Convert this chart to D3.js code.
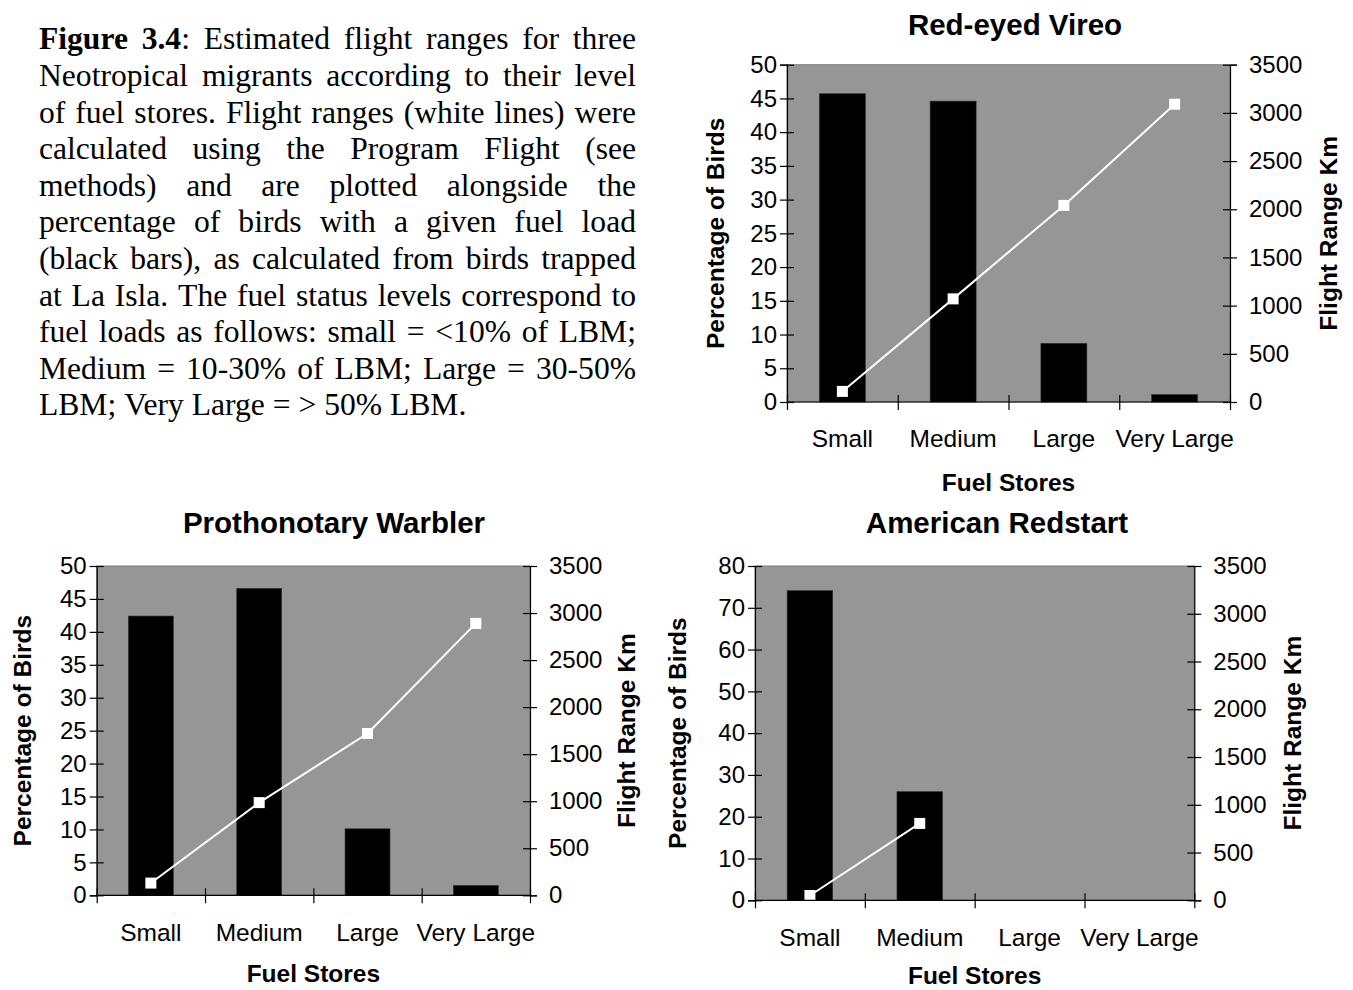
<!DOCTYPE html>
<html><head><meta charset="utf-8">
<script src="https://cdn.jsdelivr.net/npm/d3@7"></script>
<style>
body{margin:0;background:#fff;}
svg{display:block;}
</style></head>
<body>
<svg id="fig" width="1353" height="990"></svg>
<script>
// ---------- data ----------
const categories = ["Small", "Medium", "Large", "Very Large"];
const vireoPct = [45.7, 44.6, 8.7, 1.1];
const vireoRange = [110, 1070, 2040, 3090];
const warblerPct = [42.4, 46.6, 10.1, 1.5];
const warblerRange = [130, 985, 1720, 2890];
const redstartPct = [74.1, 26.0, null, null];
const redstartRange = [50, 805, null, null];
const pctTicks50 = [0, 5, 10, 15, 20, 25, 30, 35, 40, 45, 50];
const pctTicks80 = [0, 10, 20, 30, 40, 50, 60, 70, 80];
const rangeTicks = [0, 500, 1000, 1500, 2000, 2500, 3000, 3500];
const captionLines = [
  [["Figure 3.4", true], [": Estimated flight ranges for three", false]],
  [["Neotropical migrants according to their level", false]],
  [["of fuel stores. Flight ranges (white lines) were", false]],
  [["calculated using the Program Flight (see", false]],
  [["methods) and are plotted alongside the", false]],
  [["percentage of birds with a given fuel load", false]],
  [["(black bars), as calculated from birds trapped", false]],
  [["at La Isla. The fuel status levels correspond to", false]],
  [["fuel loads as follows: small = <10% of LBM;", false]],
  [["Medium = 10-30% of LBM; Large = 30-50%", false]],
  [["LBM; Very Large = > 50% LBM.", false]]
];

const svg = d3.select("#fig");
const SANS = "'Liberation Sans', Arial, sans-serif";

// ---------- caption (justified) ----------
(function drawCaption(){
  const left = 39, right = 636, base0 = 49.3, lh = 36.6, fs = 31.6;
  const g = svg.append("g").attr("font-family", "'Liberation Serif','Times New Roman',serif")
    .attr("font-size", fs).attr("fill", "#000");
  captionLines.forEach((segs, li) => {
    const words = [];
    segs.forEach(([txt, bold], si) => {
      const parts = txt.split(" ");
      parts.forEach((p, pi) => {
        if (p === "") return;
        const attachToPrev = (pi === 0 && si > 0 && !txt.startsWith(" "));
        if (attachToPrev && words.length) words[words.length-1].push([p, bold]);
        else words.push([[p, bold]]);
      });
    });
    const y = base0 + li * lh;
    const nodes = words.map(w => {
      const t = g.append("text").attr("y", y);
      w.forEach(([p, b]) => t.append("tspan").attr("font-weight", b ? "bold" : "normal").text(p));
      return t;
    });
    const widths = nodes.map(n => n.node().getComputedTextLength());
    const total = d3.sum(widths);
    const last = li === captionLines.length - 1;
    const gap = (!last && nodes.length > 1) ? (right - left - total) / (nodes.length - 1) : fs * 0.25;
    let x = left;
    nodes.forEach((n, i) => { n.attr("x", x); x += widths[i] + gap; });
  });
})();

// ---------- charts ----------
const charts = [
  { title: "Red-eyed Vireo", titleX: 1015, titleY: 35, pct: vireoPct, range: vireoRange,
    pctTicks: pctTicks50, x0: 787, x1: 1230, y0: 64.7, y1: 402, lOff: 72, rOff: 98, fOff: 89 },
  { title: "Prothonotary Warbler", titleX: 334, titleY: 533, pct: warblerPct, range: warblerRange,
    pctTicks: pctTicks50, x0: 96.7, x1: 530, y0: 566, y1: 895.3, lOff: 75, rOff: 96, fOff: 87 },
  { title: "American Redstart", titleX: 997, titleY: 533, pct: redstartPct, range: redstartRange,
    pctTicks: pctTicks80, x0: 755, x1: 1194.3, y0: 566, y1: 900.3, lOff: 78, rOff: 98, fOff: 84 }
];

charts.forEach(c => {
  const g = svg.append("g").attr("font-family", SANS);
  const x = d3.scaleBand().domain(categories).range([c.x0, c.x1]).paddingInner(0).paddingOuter(0);
  const xb = d3.scaleLinear().domain([0, categories.length]).range([c.x0, c.x1]);
  const yL = d3.scaleLinear().domain([0, d3.max(c.pctTicks)]).range([c.y1, c.y0]);
  const yR = d3.scaleLinear().domain([0, d3.max(rangeTicks)]).range([c.y1, c.y0]);

  g.append("rect").attr("x", c.x0).attr("y", c.y0).attr("width", c.x1 - c.x0).attr("height", c.y1 - c.y0)
    .attr("fill", "#969696").attr("stroke", "#7f7f7f").attr("stroke-width", 1);

  const bw = x.bandwidth() * 0.415;
  g.selectAll("rect.bar").data(categories.map((k, i) => ({k, v: c.pct[i]})).filter(d => d.v != null))
    .join("rect").attr("class", "bar")
    .attr("x", d => x(d.k) + (x.bandwidth() - bw) / 2)
    .attr("y", d => yL(d.v)).attr("width", bw).attr("height", d => c.y1 - yL(d.v))
    .attr("fill", "#000").attr("stroke", "#333").attr("stroke-width", 0.6);

  const pts = categories.map((k, i) => ({k, v: c.range[i]})).filter(d => d.v != null);
  g.append("path").datum(pts)
    .attr("d", d3.line().x(d => x(d.k) + x.bandwidth() / 2).y(d => yR(d.v)))
    .attr("fill", "none").attr("stroke", "#fff").attr("stroke-width", 2);
  const ms = 11;
  g.selectAll("rect.mk").data(pts).join("rect").attr("class", "mk")
    .attr("x", d => x(d.k) + x.bandwidth() / 2 - ms / 2).attr("y", d => yR(d.v) - ms / 2)
    .attr("width", ms).attr("height", ms).attr("fill", "#fff");

  const ax = g.append("g").attr("transform", `translate(${c.x0},0)`)
    .call(d3.axisLeft(yL).tickValues(c.pctTicks).tickSize(7).tickPadding(3).tickFormat(d3.format("d")));
  ax.selectAll(".tick line").attr("x1", 7).attr("x2", -7);
  const ar = g.append("g").attr("transform", `translate(${c.x1},0)`)
    .call(d3.axisRight(yR).tickValues(rangeTicks).tickSize(7).tickPadding(12).tickFormat(d3.format("d")));
  ar.selectAll(".tick line").attr("x1", -7).attr("x2", 7);
  const ab = g.append("g").attr("transform", `translate(0,${c.y1})`)
    .call(d3.axisBottom(xb).ticks(categories.length).tickSize(7).tickFormat(""));
  ab.selectAll(".tick line").attr("y1", -7).attr("y2", 8);
  const ac = g.append("g").attr("transform", `translate(0,${c.y1})`)
    .call(d3.axisBottom(x).tickSize(0).tickPadding(28));
  ac.select(".domain").remove();

  [ax, ar, ab, ac].forEach(a => {
    a.selectAll("text").attr("font-family", SANS).attr("font-size", 24).attr("fill", "#000");
    a.selectAll("line, .domain").attr("stroke", "#000").attr("stroke-width", 1.2);
  });
  ac.selectAll("text").attr("dy", "0.71em").attr("font-size", 24.5);
  ab.select(".domain").attr("d", `M${c.x0},0H${c.x1}`);

  g.append("text").attr("x", c.titleX).attr("y", c.titleY).attr("text-anchor", "middle")
    .attr("font-weight", "bold").attr("font-size", 29.5).text(c.title);
  g.append("text").attr("x", (c.x0 + c.x1) / 2).attr("y", c.y1 + c.fOff).attr("text-anchor", "middle")
    .attr("font-weight", "bold").attr("font-size", 24.5).text("Fuel Stores");
  const cy = (c.y0 + c.y1) / 2;
  g.append("text").attr("transform", `translate(${c.x0 - c.lOff},${cy}) rotate(-90)`)
    .attr("text-anchor", "middle").attr("dy", "0.36em")
    .attr("font-weight", "bold").attr("font-size", 24.5).text("Percentage of Birds");
  g.append("text").attr("transform", `translate(${c.x1 + c.rOff},${cy}) rotate(-90)`)
    .attr("text-anchor", "middle").attr("dy", "0.36em")
    .attr("font-weight", "bold").attr("font-size", 24.5).text("Flight Range Km");
});
</script>
</body></html>
